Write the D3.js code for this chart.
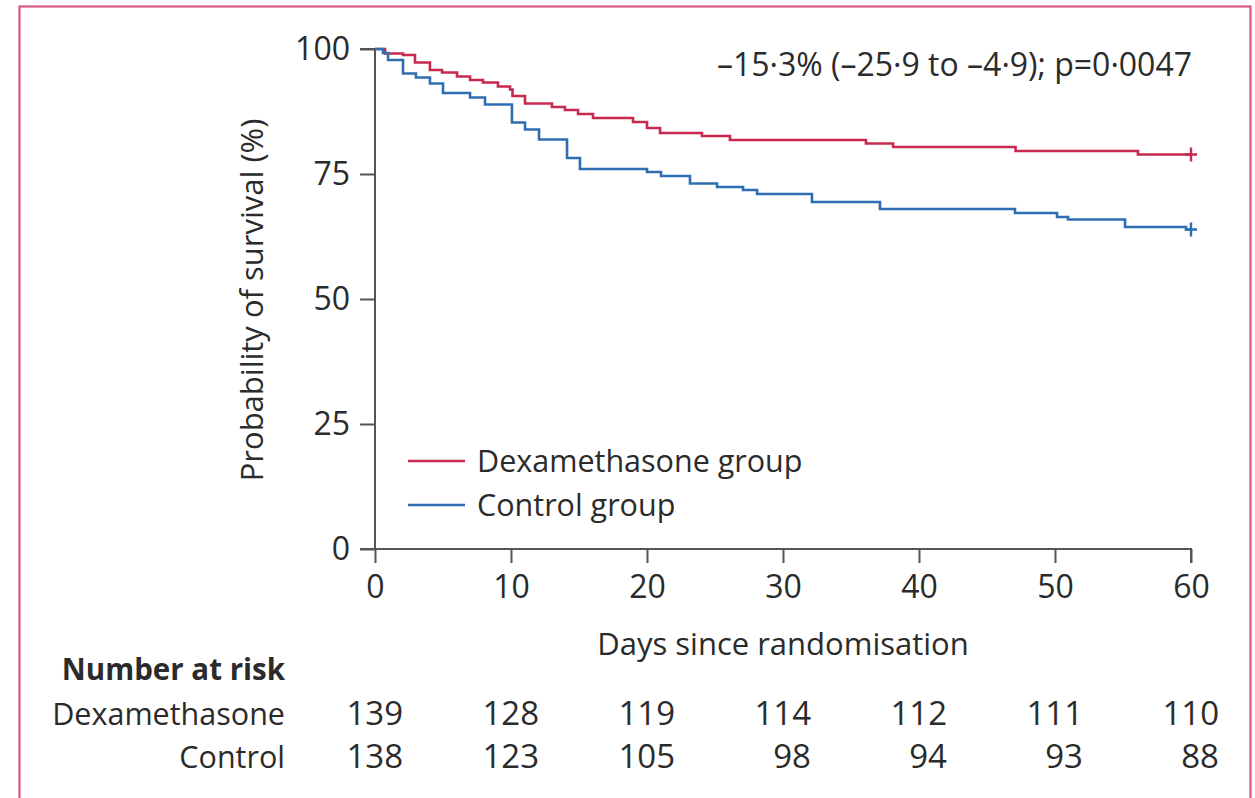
<!DOCTYPE html>
<html>
<head>
<meta charset="utf-8">
<script src="https://cdn.jsdelivr.net/npm/d3@7"></script>
<style>
  html, body { margin: 0; padding: 0; background: #fff; }
  svg { display: block; }
  text { font-family: "Open Sans", "Noto Sans", sans-serif; fill: #2b2b2b; }
</style>
</head>
<body>
<svg id="chart" width="1255" height="798"></svg>
<script>
// ---- data ----
const dexaDays = [0, 0.74, 2.06, 2.94, 4.04, 4.93, 6.03, 6.99, 7.94, 9.04, 9.93, 10.11, 11.03, 13.01, 13.97, 14.93, 16.03, 18.97, 20.0, 20.96, 24.04, 26.1, 36.1, 38.1, 47.1, 56.1, 60];
const dexaSurv = [100, 99.1, 98.8, 97.3, 95.8, 95.3, 94.5, 93.8, 93.3, 92.5, 91.9, 90.6, 89.1, 88.4, 87.8, 87.0, 86.2, 85.4, 84.2, 83.2, 82.6, 81.8, 81.1, 80.4, 79.6, 78.9, 78.9];

const ctrlDays = [0, 0.59, 0.96, 2.06, 3.01, 4.04, 5.0, 6.99, 8.09, 10.07, 11.03, 12.06, 14.12, 15.07, 20.0, 21.03, 23.16, 25.15, 27.06, 28.09, 32.13, 37.13, 47.06, 50.15, 50.96, 55.15, 59.63, 60];
const ctrlSurv = [100, 99.2, 97.8, 95.1, 94.3, 93.1, 91.2, 90.3, 88.9, 85.3, 83.9, 81.9, 78.2, 76.0, 75.4, 74.6, 73.1, 72.4, 71.8, 71.0, 69.4, 68.0, 67.2, 66.4, 65.9, 64.4, 63.9, 63.9];

const xTicks = [0, 10, 20, 30, 40, 50, 60];
const yTicks = [0, 25, 50, 75, 100];
const seriesNames = ["Dexamethasone group", "Control group"];
const riskLabels = ["Dexamethasone", "Control"];
const riskDexa = [139, 128, 119, 114, 112, 111, 110];
const riskCtrl = [138, 123, 105, 98, 94, 93, 88];
const annotation = "\u201315\u00b73% (\u201325\u00b79 to \u20134\u00b79); p=0\u00b70047";

// ---- layout ----
const red = "#c8294f", blue = "#2f6db3", axisCol = "#555555";
const svg = d3.select("#chart");

// frame
svg.append("rect").attr("x", 19.5).attr("y", 6.5).attr("width", 1231).attr("height", 820)
  .attr("fill", "none").attr("stroke", "#d4577f").attr("stroke-width", 2.2);

const x = d3.scaleLinear().domain([0, 60]).range([375, 1191]);
const y = d3.scaleLinear().domain([0, 100]).range([549, 49]);

// axes
const yAxis = svg.append("g").attr("transform", `translate(${x(0)},0)`)
  .call(d3.axisLeft(y).tickValues(yTicks).tickSize(15).tickPadding(10).tickFormat(d3.format("d")));
const xAxis = svg.append("g").attr("transform", `translate(0,${y(0)})`)
  .call(d3.axisBottom(x).tickValues(xTicks).tickSize(14).tickPadding(12).tickFormat(d3.format("d")));
[yAxis, xAxis].forEach(g => {
  g.select(".domain").attr("stroke", axisCol).attr("stroke-width", 2);
  g.selectAll(".tick line").attr("stroke", axisCol).attr("stroke-width", 2);
  g.selectAll(".tick text").attr("fill", "#2b2b2b").style("font-size", "32px")
    .style("font-family", "'Open Sans', sans-serif");
});
yAxis.select(".domain").attr("d", `M-15,${y(100)}H0V${y(0)}`);
xAxis.select(".domain").attr("d", `M${x(0) - 15},0H${x(60)}V14`);

// axis titles
svg.append("text").attr("x", 783).attr("y", 655).attr("text-anchor", "middle")
  .style("font-size", "31px").text("Days since randomisation");
svg.append("text").attr("transform", `translate(263,300) rotate(-90)`).attr("text-anchor", "middle")
  .style("font-size", "31px").text("Probability of survival (%)");

// curves
const line = d3.line().x(d => x(d[0])).y(d => y(d[1])).curve(d3.curveStepAfter);
const series = [
  { days: dexaDays, surv: dexaSurv, color: red },
  { days: ctrlDays, surv: ctrlSurv, color: blue }
];
series.forEach(s => {
  const pts = s.days.map((d, i) => [d, s.surv[i]]);
  svg.append("path").datum(pts).attr("d", line).attr("fill", "none")
    .attr("stroke", s.color).attr("stroke-width", 2.6);
  const last = pts[pts.length - 1];
  svg.append("path")
    .attr("d", `M${x(last[0]) - 6},${y(last[1])}H${x(last[0]) + 6}M${x(last[0])},${y(last[1]) - 7}V${y(last[1]) + 7}`)
    .attr("stroke", s.color).attr("stroke-width", 2.4);
});

// legend
seriesNames.forEach((n, i) => {
  const ly = 461 + i * 44;
  svg.append("line").attr("x1", 408).attr("x2", 465).attr("y1", ly).attr("y2", ly)
    .attr("stroke", series[i].color).attr("stroke-width", 2.6);
  svg.append("text").attr("x", 477).attr("y", ly + 11).style("font-size", "30.5px").text(n);
});

// annotation
svg.append("text").attr("x", 1192).attr("y", 76).attr("text-anchor", "end")
  .style("font-size", "32px").text(annotation);

// number at risk table
svg.append("text").attr("x", 285).attr("y", 680).attr("text-anchor", "end")
  .style("font-size", "29.5px").style("font-weight", "bold").text("Number at risk");
[riskDexa, riskCtrl].forEach((row, r) => {
  const by = 725 + r * 43;
  svg.append("text").attr("x", 285).attr("y", by).attr("text-anchor", "end")
    .style("font-size", "30.5px").text(riskLabels[r]);
  row.forEach((v, i) => {
    svg.append("text").attr("x", x(xTicks[i]) + 28).attr("y", by).attr("text-anchor", "end")
      .style("font-size", "33px").text(v);
  });
});
</script>
</body>
</html>
